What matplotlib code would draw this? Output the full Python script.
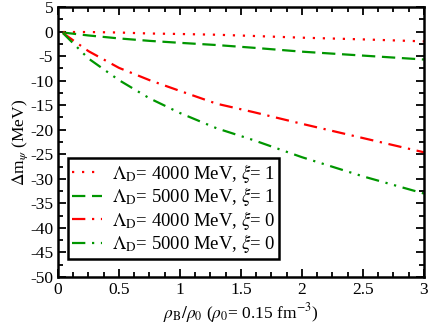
import numpy as np
import matplotlib.pyplot as plt
from matplotlib.ticker import MultipleLocator, FuncFormatter

plt.rcParams['font.family'] = ['Liberation Serif', 'DejaVu Serif']
plt.rcParams['mathtext.fontset'] = 'stix'
plt.rcParams['axes.unicode_minus'] = False

# data
rho = [0.04, 0.25, 0.5, 0.75, 1.0, 1.3, 1.6, 2.0, 2.5, 3.0]
dm_4000_xi1 = [-0.1, -0.1, -0.2, -0.4, -0.5, -0.65, -0.9, -1.25, -1.6, -2.0]
dm_5000_xi1 = [-0.2, -0.8, -1.4, -1.9, -2.3, -2.75, -3.3, -4.1, -4.9, -5.7]
dm_4000_xi0 = [-0.3, -4.0, -7.4, -9.9, -12.1, -14.7, -16.4, -18.8, -21.7, -24.6]
dm_5000_xi0 = [-0.3, -5.5, -9.9, -13.6, -16.6, -19.7, -22.1, -25.6, -29.5, -33.0]

labels = [r'$\Lambda_{\rm D}$= 4000 MeV, $\xi$= 1',
          r'$\Lambda_{\rm D}$= 5000 MeV, $\xi$= 1',
          r'$\Lambda_{\rm D}$= 4000 MeV, $\xi$= 0',
          r'$\Lambda_{\rm D}$= 5000 MeV, $\xi$= 0']

red = '#ff0000'
green = '#009600'

fig = plt.figure(figsize=(4.28, 3.27), dpi=100)
ax = fig.add_axes([0.1355, 0.153, 0.855, 0.8256])

ax.plot(rho, dm_4000_xi1, color=red, lw=1.6, ls=(0, (1, 3.5)), label=labels[0])
ax.plot(rho, dm_5000_xi1, color=green, lw=1.6, ls=(0, (6, 3)), label=labels[1])
ax.plot(rho, dm_4000_xi0, color=red, lw=1.6, ls=(0, (6, 3, 1, 3)), label=labels[2])
ax.plot(rho, dm_5000_xi0, color=green, lw=1.6, ls=(0, (6, 3, 1, 3, 1, 3)), label=labels[3])

ax.set_xlim(0, 3)
ax.set_ylim(-50, 5)
ax.xaxis.set_major_locator(MultipleLocator(0.5))
ax.xaxis.set_minor_locator(MultipleLocator(0.125))
ax.yaxis.set_major_locator(MultipleLocator(5))
ax.yaxis.set_minor_locator(MultipleLocator(2.5))
fmt = FuncFormatter(lambda v, p: f'{v:g}')
ax.xaxis.set_major_formatter(fmt)
ax.yaxis.set_major_formatter(fmt)
ax.tick_params(which='both', direction='in', top=True, right=True, width=1.3, labelsize=12.5)
ax.tick_params(which='major', length=6)
ax.tick_params(which='minor', length=3.5)
for s in ax.spines.values():
    s.set_linewidth(1.8)

ax.set_xlabel(r'$\rho_{\rm B}/\rho_0$ ($\rho_0$= 0.15 fm$^{-3}$)', fontsize=12.5, labelpad=2)
ax.set_ylabel(r'$\Delta$m$_\psi$ (MeV)', fontsize=12.5, labelpad=0)

leg = ax.legend(loc='lower left', bbox_to_anchor=(0.027, 0.067), fontsize=13.5,
                frameon=True, fancybox=False, edgecolor='black', framealpha=1,
                handlelength=1.6, handletextpad=0.55, borderpad=0.2, labelspacing=0.02,
                borderaxespad=0)
leg.get_frame().set_linewidth(1.8)

fig.savefig('out.png', dpi=100)
